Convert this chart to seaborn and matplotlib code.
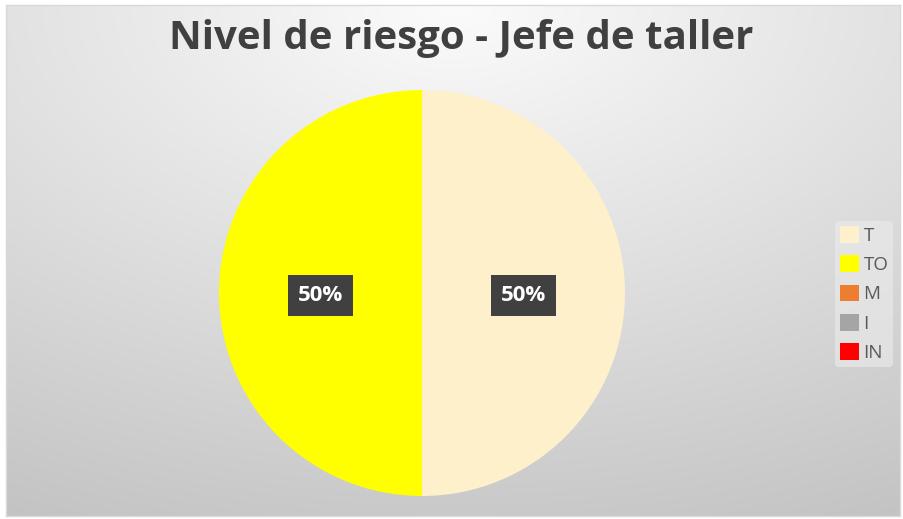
import numpy as np
import matplotlib
matplotlib.use("Agg")
import matplotlib.pyplot as plt
import seaborn as sns
from matplotlib.patches import Patch

categories = ["T", "TO", "M", "I", "IN"]
values = [50, 50, 0, 0, 0]
colors = ["#FFF0CC", "#FFFF00", "#ED7D31", "#A5A5A5", "#FF0000"]
title = "Nivel de riesgo - Jefe de taller"

sns.set_theme(style="white")
plt.rcParams['font.family'] = ['Open Sans', 'DejaVu Sans']

W, H = 904, 519
fig = plt.figure(figsize=(W / 100, H / 100), dpi=100)
fig.patch.set_facecolor("white")

# background gradient panel
bg = fig.add_axes([6 / W, 3 / H, 894 / W, 511 / H])
yy, xx = np.mgrid[0:200, 0:300]
cx, cy = 150, 0
d = np.sqrt(((xx - cx) / 300.0) ** 2 + ((yy - cy) / 200.0) ** 2)
d = d / d.max()
shade = 0.985 - 0.22 * d
img = np.dstack([shade, shade, shade])
bg.imshow(img, aspect="auto", extent=[0, 1, 0, 1], origin="upper")
bg.set_axis_off()

# frame
frame = fig.add_axes([6 / W, 3 / H, 894 / W, 511 / H], facecolor="none")
frame.set_xticks([]); frame.set_yticks([])
for s in frame.spines.values():
    s.set_color("#d9d9d9"); s.set_linewidth(1)

# pie
r = 203
cxp, cyp = 422, 293
ax = fig.add_axes([(cxp - r) / W, (H - cyp - r) / H, 2 * r / W, 2 * r / H])
ax.set_facecolor("none")
wedges, texts, autotexts = ax.pie(
    values, colors=colors, startangle=90, counterclock=False,
    autopct=lambda p: f"{p:.0f}%" if p > 0 else "", pctdistance=0.5,
    wedgeprops=dict(linewidth=0), radius=1.0)
for t in autotexts:
    x, y = t.get_position()
    t.set_position((x, y - 0.01))
    t.set_color("white")
    t.set_fontsize(16)
    t.set_fontweight("bold")
    t.set_bbox(dict(boxstyle="square,pad=0.45", fc="#404040", ec="none"))
ax.set_xlim(-1, 1); ax.set_ylim(-1, 1)
ax.set_aspect("auto")

fig.text(461 / W, 1 - 38 / H, title, ha="center", va="center",
         fontsize=29, fontweight="bold", color="#404040")

handles = [Patch(facecolor=c, edgecolor="none") for c in colors]
leg = fig.legend(handles, categories, loc="center left",
                 bbox_to_anchor=(826 / W, 1 - 294 / H), frameon=True,
                 fontsize=13.5, handlelength=1.0, handleheight=1.0,
                 handletextpad=0.25, labelspacing=0.56, borderpad=0.25)
leg.get_frame().set_facecolor("#ececec")
leg.get_frame().set_edgecolor("none")
leg.get_frame().set_alpha(0.6)
for t in leg.get_texts():
    t.set_color("#595959")

fig.savefig("out.png", dpi=100)
